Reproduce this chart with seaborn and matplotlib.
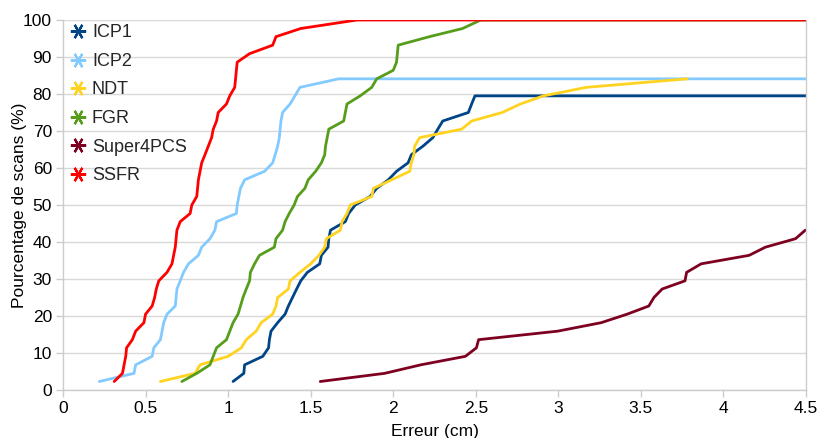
import matplotlib
matplotlib.use("Agg")
import matplotlib.pyplot as plt
from matplotlib.lines import Line2D
import seaborn as sns
import pandas as pd

# percentage levels (cumulative share of scans)
levels = [2.3, 4.5, 6.8, 9.1, 11.4, 13.6, 15.9, 18.2, 20.5, 22.7, 25.0, 27.3,
          29.5, 31.8, 34.1, 36.4, 38.6, 40.9, 43.2, 45.5, 47.7, 50.0, 52.3, 54.5,
          56.8, 59.1, 61.4, 63.6, 65.9, 68.2, 70.5, 72.7, 75.0, 77.3, 79.5, 81.8,
          84.1, 86.4, 88.6, 90.9, 93.2, 95.5, 97.7, 100.0]

series_names = ["ICP1", "ICP2", "NDT", "FGR", "Super4PCS", "SSFR"]

icp1_x = [1.03, 1.095, 1.10, 1.21, 1.245, 1.25, 1.26, 1.30, 1.345, 1.365, 1.39,
          1.415, 1.44, 1.48, 1.555, 1.565, 1.605, 1.61, 1.62, 1.71, 1.73, 1.77,
          1.86, 1.90, 1.97, 2.02, 2.09, 2.11, 2.18, 2.24, 2.27, 2.30, 2.455,
          2.475, 2.495, 4.5]
icp1_y = levels[:35] + [79.5]

icp2_x = [0.22, 0.43, 0.44, 0.54, 0.55, 0.59, 0.60, 0.61, 0.63, 0.68, 0.685,
          0.69, 0.71, 0.73, 0.76, 0.82, 0.84, 0.89, 0.92, 0.93, 1.05, 1.055,
          1.065, 1.075, 1.10, 1.22, 1.27, 1.285, 1.30, 1.31, 1.315, 1.32, 1.33,
          1.375, 1.405, 1.435, 1.67, 4.5]
icp2_y = levels[:37] + [84.1]

ndt_x = [0.59, 0.80, 0.83, 1.00, 1.08, 1.11, 1.17, 1.20, 1.27, 1.29, 1.30,
         1.365, 1.375, 1.435, 1.50, 1.55, 1.585, 1.595, 1.68, 1.69, 1.72, 1.74,
         1.87, 1.88, 1.99, 2.10, 2.11, 2.125, 2.13, 2.16, 2.415, 2.475, 2.66,
         2.77, 2.91, 3.17, 3.78]
ndt_y = levels[:37]

fgr_x = [0.72, 0.81, 0.89, 0.91, 0.93, 0.99, 1.01, 1.03, 1.06, 1.075, 1.09,
         1.11, 1.13, 1.135, 1.16, 1.19, 1.28, 1.29, 1.33, 1.345, 1.37, 1.40,
         1.42, 1.465, 1.485, 1.53, 1.565, 1.585, 1.59, 1.60, 1.61, 1.70, 1.71,
         1.72, 1.80, 1.87, 1.90, 2.00, 2.02, 2.025, 2.03, 2.22, 2.42, 2.53, 4.5]
fgr_y = levels[:44] + [100.0]

s4pcs_x = [1.558, 1.948, 2.167, 2.437, 2.504, 2.517, 2.996, 3.26, 3.417, 3.548,
           3.579, 3.629, 3.767, 3.777, 3.865, 4.156, 4.254, 4.437, 4.496]
s4pcs_y = levels[:19]

ssfr_x = [0.31, 0.36, 0.37, 0.38, 0.385, 0.42, 0.44, 0.49, 0.50, 0.54, 0.555,
          0.565, 0.58, 0.63, 0.66, 0.67, 0.68, 0.685, 0.69, 0.71, 0.77, 0.78,
          0.81, 0.815, 0.82, 0.83, 0.84, 0.86, 0.88, 0.90, 0.91, 0.93, 0.94,
          0.99, 1.01, 1.04, 1.045, 1.05, 1.055, 1.13, 1.27, 1.29, 1.44, 1.78, 4.5]
ssfr_y = levels[:44] + [100.0]

colors = ["#004586", "#83CAFF", "#FFD320", "#579D1C", "#7E0021", "#FF0000"]

xs = [icp1_x, icp2_x, ndt_x, fgr_x, s4pcs_x, ssfr_x]
ys = [icp1_y, icp2_y, ndt_y, fgr_y, s4pcs_y, ssfr_y]

frames = []
for name, x, y in zip(series_names, xs, ys):
    frames.append(pd.DataFrame({"Erreur": x, "Pct": y, "Méthode": name}))
df = pd.concat(frames, ignore_index=True)

sns.set_theme(style="white")
plt.rcParams["font.family"] = ["Liberation Sans", "DejaVu Sans"]

fig = plt.figure(figsize=(8.2, 4.38), dpi=100)
ax = fig.add_axes([63 / 820, 1 - 390 / 438, (806 - 63) / 820, 370 / 438])

sns.lineplot(data=df, x="Erreur", y="Pct", hue="Méthode", hue_order=series_names,
             palette=dict(zip(series_names, colors)), estimator=None, sort=False,
             linewidth=2.0, legend=False, ax=ax)

ax.set_xlim(0, 4.5)
ax.set_ylim(0, 100)
ax.set_xticks([0, 0.5, 1, 1.5, 2, 2.5, 3, 3.5, 4, 4.5])
ax.set_xticklabels(["0", "0.5", "1", "1.5", "2", "2.5", "3", "3.5", "4", "4.5"])
ax.set_yticks(range(0, 101, 10))
ax.yaxis.grid(True, color="#d9d9d9", linewidth=1.0)
ax.xaxis.grid(False)
ax.set_axisbelow(True)
for side in ["left", "bottom", "right"]:
    ax.spines[side].set_color("#cccccc")
    ax.spines[side].set_linewidth(1.0)
ax.spines["top"].set_visible(False)
ax.tick_params(axis="both", which="major", length=5, width=1.0, color="#cccccc",
               labelsize=12.5, labelcolor="#000000", pad=3, direction="out")
ax.tick_params(axis="x", bottom=True)
ax.tick_params(axis="y", left=True)
ax.set_xlabel("Erreur (cm)", fontsize=12.5, color="#000000")
ax.set_ylabel("Pourcentage de scans (%)", fontsize=12.5, color="#000000")
ax.xaxis.set_label_coords(0.5, -0.093)
ax.yaxis.set_label_coords(-0.058, 0.5)
ax.xaxis.label.set_va("top")
ax.yaxis.label.set_va("center")

handles = [Line2D([], [], linestyle="none", marker=(6, 2, 90), markersize=11,
                  markeredgewidth=1.6, color=c, markeredgecolor=c)
           for c in colors]
ax.legend(handles, series_names, loc="upper left", bbox_to_anchor=(0.005, 0.998),
          frameon=False, fontsize=13, handlelength=0.9, handletextpad=0.3,
          labelspacing=0.64, borderaxespad=0.0, borderpad=0.2)

fig.savefig("out.png", dpi=100)
